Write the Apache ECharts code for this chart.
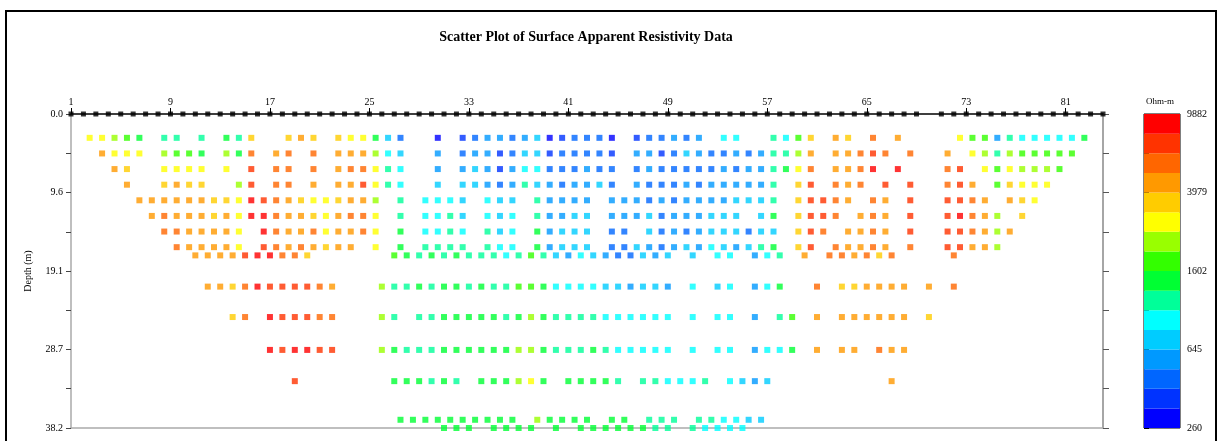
<!DOCTYPE html>
<html>
<head>
<meta charset="utf-8">
<script src="https://cdn.jsdelivr.net/npm/echarts@6/dist/echarts.min.js"></script>
<style>
  html, body { margin: 0; padding: 0; background: #ffffff; }
  #chart { width: 1222px; height: 441px; }
</style>
</head>
<body>
<div id="chart"></div>
<script>
// Electrode stations along the survey line (station 70 was not deployed)
const electrodes = [
  1, 2, 3, 4, 5, 6, 7, 8, 9, 10, 11, 12, 13, 14, 15, 16, 17, 18, 19, 20,
  21, 22, 23, 24, 25, 26, 27, 28, 29, 30, 31, 32, 33, 34, 35, 36, 37, 38, 39, 40,
  41, 42, 43, 44, 45, 46, 47, 48, 49, 50, 51, 52, 53, 54, 55, 56, 57, 58, 59, 60,
  61, 62, 63, 64, 65, 66, 67, 68, 69, 71, 72, 73, 74, 75, 76, 77, 78, 79, 80,
  81, 82, 83, 84
];
const electrodeLabels = [1, 9, 17, 25, 33, 41, 49, 57, 65, 73, 81];

// Depth axis ticks (m) and the labels shown on every second tick
const depthTicks = [0, 4.775, 9.55, 14.325, 19.1, 23.875, 28.65, 33.425, 38.2];
const depthLabelTicks = [0, 9.55, 19.1, 28.65, 38.2];
const depthLabels = ['0.0', '9.6', '19.1', '28.7', '38.2'];

// Resistivity classes (Ohm-m), low to high
const classBreaks = [260, 326, 410, 514, 645, 811, 1017, 1277, 1602, 2013, 2527, 3172, 3979, 4997, 6273, 7875, 9882];
const classColors = [
  '#0000FF', '#0033FF', '#0066FF', '#0099FF', '#00CCFF', '#00FFFF', '#00FF99', '#00FF33',
  '#33FF00', '#99FF00', '#FFFF00', '#FFCC00', '#FF9900', '#FF6600', '#FF3300', '#FF0000'
];
// Representative apparent resistivity of each class
const classOhm = [291, 366, 459, 576, 723, 908, 1140, 1431, 1796, 2255, 2831, 3553, 4460, 5599, 7028, 8823];
const scaleTickPos = [0, 2, 4, 6, 8, 10, 12, 14, 16];
const scaleLabelPos = [0, 4, 8, 12, 16];
const scaleLabels = ['260', '645', '1602', '3979', '9882'];

// Pseudo-section rows: pseudo-depth (m), first station, then one class code
// (hex digit 0-f, '.' = no reading) per station step of 1
const rowDepth = [2.9, 4.8, 6.7, 8.6, 10.5, 12.4, 14.3, 16.2, 17.2, 21.0, 24.7, 28.7, 32.5, 37.2, 38.2];
const rowStart = [2.5, 3.5, 4.5, 5.5, 6.5, 7.5, 8.5, 9.5, 11, 12, 14, 17, 19, 27.5, 31];
const rowClasses = [
  'aa987.66.6 .76b..bcb. baa742..0. 1233234012 220.122323 .55..658b. cb.d.c.... a883655555 7',
  'caaa.9887. 97d.cd.d.c cc954..3.2 3312441222 21.3312432 2323669c.c cded.d..c. a96988888',
  'cb..aaaa.a .e.dd.d.cd da65..3.34 3135522232 2.23222223 23367ad.cc df.f...de. a8a9998',
  'c..bcbb..9 e.dd.c.cce a65..4.443 2364323342 .322232333 336.be.dcd .e.e..dec. 8baaa',
  'ccccccbbaf edcbaabcc9 .6.5554.54 4.63333.33 3232333344 46.beedc.d c.e..eedc. cba',
  'cdcccbcaff dccbacdda. 6.5564.545 .63344.333 42333444.4 7.beed.cdc .e..efdc9. b',
  'ddcccca.fd ccdaccda.7 .5565.645. 73444.22.4 2323444244 .bed.ccdc. e..eedc9c',
  'dcccca.edc dcbcc.a.7. 6666.655.7 3444.22432 343543467. be.dccdc.d ..eecc9',
  'cccceffddb ......8767 6766656864 354322434. 4.55.356.c .ddcdbd... .d',
  'ccbdfeeeed c...966767 7676688755 55443443.5 .45.357..d .bbcccc.c. d',
  'bd.feeedd. ..96.66777 7767976666 555555.5.5 5.3.68.c.c ccccc.b',
  'feffee...9 7666777777 9976667655 555.5.55.3 557.c.cc.d cc',
  'e....... 777676.777 9a7.77776. 665556.543 4.........c',
  '7777777777 .97777.77. 666.665544',
  '777.7777.7 .77777766. 65555'
];

// Expand rows into [station, depth, resistivity] readings
const readings = [];
rowClasses.forEach((codes, r) => {
  codes.replace(/ /g, '').split('').forEach((c, i) => {
    if (c === '.') return;
    readings.push([rowStart[r] + i, rowDepth[r], classOhm[parseInt(c, 16)]]);
  });
});

const serif = 'Liberation Serif';
const chart = echarts.init(document.getElementById('chart'), null, { renderer: 'canvas' });

const option = {
  backgroundColor: '#ffffff',
  animation: false,
  title: {
    text: 'Scatter Plot of Surface Apparent Resistivity Data',
    left: 581,
    top: 25,
    textAlign: 'center',
    textStyle: { fontFamily: serif, fontWeight: 'bold', fontSize: 14, color: '#000' }
  },
  grid: [
    { left: 71, top: 114, width: 1032, height: 314 },
    { left: 1144, top: 114, width: 36, height: 314, show: true, borderColor: '#000', borderWidth: 1, backgroundColor: 'transparent' }
  ],
  xAxis: [
    {
      gridIndex: 0, type: 'value', position: 'top', min: 1, max: 84,
      axisLine: { show: true, onZero: false, lineStyle: { color: '#000', width: 1.5 } },
      axisTick: { show: true, customValues: electrodeLabels, length: 6, lineStyle: { color: '#000' } },
      axisLabel: { customValues: electrodeLabels, fontFamily: serif, fontSize: 10, color: '#000', margin: 7 },
      splitLine: { show: false }
    },
    {
      gridIndex: 0, type: 'value', position: 'bottom', min: 1, max: 84,
      axisLine: { show: true, onZero: false, lineStyle: { color: '#aaa', width: 1.5 } },
      axisTick: { show: false }, axisLabel: { show: false }, splitLine: { show: false }
    },
    { gridIndex: 1, type: 'value', min: 0, max: 1, show: false }
  ],
  yAxis: [
    {
      gridIndex: 0, type: 'value', inverse: true, min: 0, max: 38.2,
      name: 'Depth (m)', nameLocation: 'middle', nameGap: 38,
      nameTextStyle: { fontFamily: serif, fontSize: 10, color: '#000' },
      axisLine: { show: true, onZero: false, lineStyle: { color: '#aaa', width: 1.5 } },
      axisTick: { show: true, customValues: depthTicks, length: 5, lineStyle: { color: '#444' } },
      axisLabel: {
        customValues: depthLabelTicks,
        formatter: v => depthLabels[depthLabelTicks.indexOf(v)],
        fontFamily: serif, fontSize: 10, color: '#000', margin: 8
      },
      splitLine: { show: false }
    },
    {
      gridIndex: 0, type: 'value', inverse: true, position: 'right', min: 0, max: 38.2,
      axisLine: { show: true, onZero: false, lineStyle: { color: '#888', width: 1.5 } },
      axisTick: { show: true, customValues: depthTicks, length: 6, lineStyle: { color: '#555' } },
      axisLabel: { show: false }, splitLine: { show: false }
    },
    {
      gridIndex: 1, type: 'value', position: 'right', min: 0, max: 16,
      axisLine: { show: false },
      axisTick: { show: true, customValues: scaleTickPos, length: 5, lineStyle: { color: '#000' } },
      axisLabel: {
        customValues: scaleLabelPos,
        formatter: v => scaleLabels[scaleLabelPos.indexOf(v)],
        fontFamily: serif, fontSize: 10, color: '#000', margin: 7
      },
      splitLine: { show: false }
    }
  ],
  visualMap: {
    type: 'piecewise',
    show: false,
    seriesIndex: 1,
    dimension: 2,
    pieces: classColors.map((c, i) => (
      i === classColors.length - 1
        ? { gte: classBreaks[i], lte: classBreaks[i + 1], color: c }
        : { gte: classBreaks[i], lt: classBreaks[i + 1], color: c }
    ))
  },
  series: [
    {
      name: 'Electrodes', type: 'scatter', xAxisIndex: 0, yAxisIndex: 0,
      data: electrodes.map(e => [e, 0]),
      symbol: 'rect', symbolSize: 5, clip: false, z: 5,
      itemStyle: { color: '#000' }, silent: true
    },
    {
      name: 'Apparent resistivity', type: 'scatter', xAxisIndex: 0, yAxisIndex: 0,
      data: readings,
      symbol: 'rect', symbolSize: 6, clip: false, z: 4, silent: true
    },
    {
      name: 'Colour scale', type: 'custom', xAxisIndex: 2, yAxisIndex: 2,
      data: classColors.map((c, i) => [0.5, i]),
      silent: true,
      renderItem: (params, api) => {
        const i = api.value(1);
        const p0 = api.coord([0, i]);
        const p1 = api.coord([1, i + 1]);
        return {
          type: 'rect',
          shape: { x: p0[0], y: p1[1], width: p1[0] - p0[0], height: p0[1] - p1[1] },
          style: { fill: classColors[i] }
        };
      }
    }
  ],
  graphic: [
    {
      type: 'rect', silent: true, z: 10,
      shape: { x: 6, y: 11, width: 1210, height: 440 },
      style: { fill: 'none', stroke: '#000', lineWidth: 2 }
    },
    {
      type: 'text', silent: true, left: 1146, top: 97,
      style: { text: 'Ohm-m', fontFamily: serif, fontSize: 9, fill: '#000' }
    }
  ]
};

chart.setOption(option);
</script>
</body>
</html>
